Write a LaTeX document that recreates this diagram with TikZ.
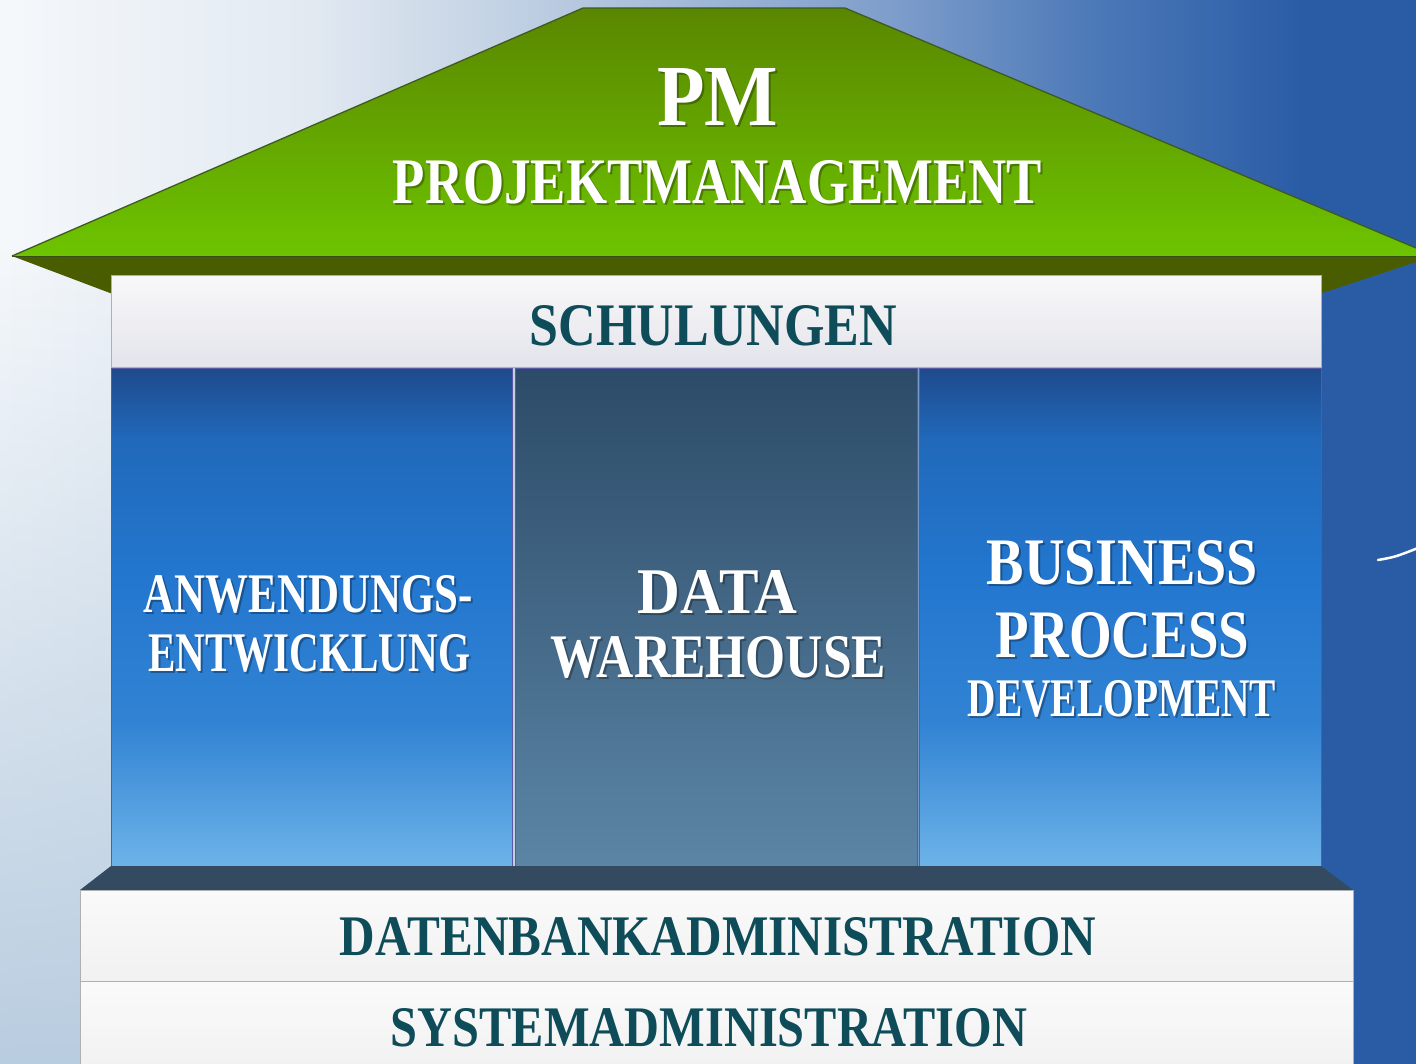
\documentclass[tikz,border=0pt]{standalone}
\usepackage{fontspec}
\setmainfont{Liberation Serif}
\usepackage{graphicx}
\usetikzlibrary{fadings}
\definecolor{bgA}{HTML}{F5F8FB}
\definecolor{bgB}{HTML}{E3EAF2}
\definecolor{bgC}{HTML}{C3D2E4}
\definecolor{bgD}{HTML}{7C9CCA}
\definecolor{bgE}{HTML}{4B78B7}
\definecolor{bgF}{HTML}{2A5CA6}
\definecolor{bgLB}{HTML}{B9CDE0}
\definecolor{roofTop}{HTML}{5A8600}
\definecolor{roofBot}{HTML}{6DC400}
\definecolor{roofEdge}{HTML}{3F5A20}
\definecolor{roofUnder}{HTML}{4A5C00}
\definecolor{slab}{HTML}{344A60}
\definecolor{teal}{HTML}{0D4C58}
\definecolor{colTop}{HTML}{1E4A8C}
\definecolor{colMid}{HTML}{2276CE}
\definecolor{colBot}{HTML}{70B6EA}
\definecolor{dwTop}{HTML}{2C4B68}
\definecolor{dwMid}{HTML}{3B6485}
\definecolor{dwBot}{HTML}{5C86A6}
\definecolor{boxBorder}{HTML}{AEB0B4}
\pgfdeclarehorizontalshading{bgshade}{100bp}{color(0bp)=(bgA); color(25bp)=(bgA); color(35.6bp)=(bgB); color(42.7bp)=(bgC); color(56.8bp)=(bgD); color(63.8bp)=(bgE); color(71bp)=(bgF); color(100bp)=(bgF)}
\pgfdeclareverticalshading{colshade}{100bp}{color(0bp)=(colBot); color(25bp)=(colBot); color(40bp)=(colMid!80!colBot); color(55bp)=(colMid); color(68bp)=(colMid!70!colTop); color(75bp)=(colTop); color(100bp)=(colTop)}
\newcommand\fitt[3]{\resizebox{#1pt}{#2pt}{\bfseries #3}}
\tikzset{
  panel/.style={rectangle, inner sep=0pt, draw=boxBorder, line width=1pt},
  lightpanel/.style={panel, top color=white!96!gray, bottom color=white!89!gray},
  schulpanel/.style={panel, top color=white!95!gray, bottom color=blue!4!white!85!gray},
  bluecol/.style={panel, draw=gray!70!blue, shading=colshade},
  dwcol/.style={panel, draw=gray!70!blue, top color=dwTop, middle color=dwMid, bottom color=dwBot},
  tealtxt/.style={inner sep=0pt, anchor=base, text=teal},
  whitetxt/.style={inner sep=0pt, anchor=base, text=white},
  shadowtxt/.style={inner sep=0pt, anchor=base, text=black, opacity=0.3},
}
\begin{document}
\begin{tikzpicture}[x=1pt, y=-1pt]
\useasboundingbox (0,0) rectangle (1416,1063);
\clip (0,0) rectangle (1416,1063);
% background
\shade[shading=bgshade] (0,0) rectangle (1416,1063);
\fill[bgLB, path fading=north] (0,250) rectangle (120,1063);
% roof
\fill[roofUnder] (12,256) -- (1416,256) -- (1416,262) -- (1322,293) -- (110,293) -- cycle;
\draw[roofEdge!70!black, line width=1.5pt] (12,256) -- (1416,256);
\shade[top color=roofTop, bottom color=roofBot] (12,256) -- (583,8) -- (845,8) -- (1416,248) -- (1416,256) -- cycle;
\draw[roofEdge, line width=1.3pt] (12,256) -- (583,8) -- (845,8) -- (1416,248);
% schulungen
\node[schulpanel, minimum width=1210pt, minimum height=92pt] (schul) at (716,321) {};
% columns
\node[bluecol, minimum width=401pt, minimum height=507pt] (colL) at (311.5,621.5) {};
\node[dwcol, minimum width=402pt, minimum height=507pt] (colM) at (716,621.5) {};
\node[bluecol, minimum width=402pt, minimum height=507pt] (colR) at (1120,621.5) {};
% base
\fill[slab] (111,866) -- (1321,866) -- (1353,890) -- (80,890) -- cycle;
\node[lightpanel, minimum width=1273pt, minimum height=91pt] (db) at (716.5,935.5) {};
\node[lightpanel, minimum width=1273pt, minimum height=92pt] (sys) at (716.5,1027) {};
% line at right
\coordinate (ln1) at (1378,560);
\coordinate (ln2) at (1418,548);
\draw[white, line width=2.5pt, line cap=round] (ln1) .. controls (1395,557) .. (ln2);
% texts
\node[shadowtxt] (pm-s) at (719.5,127) {\fitt{121}{57}{PM}};
\node[whitetxt] (pm) at (717.5,125) {\fitt{121}{57}{PM}};
\node[shadowtxt] (pj-s) at (719.5,205) {\fitt{649}{43}{PROJEKTMANAGEMENT}};
\node[whitetxt] (pj) at (717.5,203) {\fitt{649}{43}{PROJEKTMANAGEMENT}};
\node[tealtxt] (tschul) at (713.5,345) {\fitt{367}{40}{SCHULUNGEN}};
\node[shadowtxt] (anw-s) at (310.5,614) {\fitt{329}{37}{ANWENDUNGS-}};
\node[whitetxt] (anw) at (308.5,612) {\fitt{329}{37}{ANWENDUNGS-}};
\node[shadowtxt] (ent-s) at (311,673) {\fitt{322}{37}{ENTWICKLUNG}};
\node[whitetxt] (ent) at (309,671) {\fitt{322}{37}{ENTWICKLUNG}};
\node[shadowtxt] (data-s) at (719.5,615) {\fitt{159}{43}{DATA}};
\node[whitetxt] (data) at (717.5,613) {\fitt{159}{43}{DATA}};
\node[shadowtxt] (ware-s) at (720.5,679) {\fitt{335}{41}{WAREHOUSE}};
\node[whitetxt] (ware) at (718.5,677) {\fitt{335}{41}{WAREHOUSE}};
\node[shadowtxt] (bus-s) at (1124.5,586) {\fitt{271}{44}{BUSINESS}};
\node[whitetxt] (bus) at (1122.5,584) {\fitt{271}{44}{BUSINESS}};
\node[shadowtxt] (proc-s) at (1124.5,659) {\fitt{253}{45}{PROCESS}};
\node[whitetxt] (proc) at (1122.5,657) {\fitt{253}{45}{PROCESS}};
\node[shadowtxt] (dev-s) at (1124,718) {\fitt{308}{36}{DEVELOPMENT}};
\node[whitetxt] (dev) at (1122,716) {\fitt{308}{36}{DEVELOPMENT}};
\node[tealtxt] (tdb) at (718,955) {\fitt{756}{38}{DATENBANKADMINISTRATION}};
\node[tealtxt] (tsys) at (709,1046) {\fitt{636}{38}{SYSTEMADMINISTRATION}};
\end{tikzpicture}
\end{document}
